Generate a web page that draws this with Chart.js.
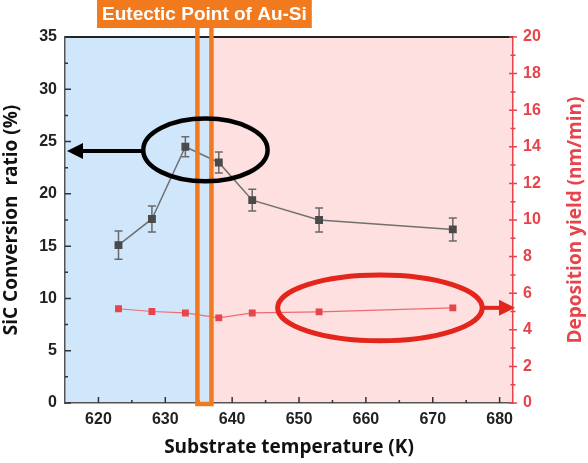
<!DOCTYPE html>
<html>
<head>
<meta charset="utf-8">
<script src="https://cdn.jsdelivr.net/npm/chart.js@4.4.0/dist/chart.umd.min.js"></script>
<style>
  html, body { margin: 0; padding: 0; background: #fff; }
</style>
</head>
<body>
<canvas id="chart" width="588" height="463"></canvas>
<script>
// substrate temperature (K) and the two measured series
const temps = [623, 628, 633, 638, 643, 653, 673];
const conversionRatio = [15.1, 17.6, 24.5, 23.0, 19.4, 17.5, 16.6];
const conversionErr = [1.35, 1.25, 0.95, 1.0, 1.05, 1.15, 1.1];
const depositionYield = [5.15, 5.0, 4.92, 4.65, 4.92, 4.98, 5.2];

const xTicks = [620, 630, 640, 650, 660, 670, 680];
const eutecticBox = [634.8, 636.9];   // the orange marker around the Au-Si eutectic point
const eutecticLabel = 'Eutectic Point of Au-Si';
const rightTitle = 'Deposition yield (nm/min)';

const ORANGE = '#f27a1e';
const RED = '#e8424a';
const TICK_FONT = { family: '"Liberation Sans", Arial, sans-serif', size: 16, weight: 'bold' };
const TITLE_FONT = { family: '"Open Sans", sans-serif', size: 19, weight: 'bold' };

function ellipse(ctx, cx, cy, rx, ry, color, lw) {
  ctx.save();
  ctx.strokeStyle = color;
  ctx.lineWidth = lw;
  ctx.beginPath();
  ctx.ellipse(cx, cy, rx, ry, 0, 0, Math.PI * 2);
  ctx.stroke();
  ctx.restore();
}

function arrow(ctx, x1, x2, y, color, lw, head, half) {
  const dir = Math.sign(x2 - x1);
  ctx.save();
  ctx.strokeStyle = color;
  ctx.fillStyle = color;
  ctx.lineWidth = lw;
  ctx.beginPath();
  ctx.moveTo(x1, y);
  ctx.lineTo(x2 - dir * head, y);
  ctx.stroke();
  ctx.beginPath();
  ctx.moveTo(x2, y);
  ctx.lineTo(x2 - dir * head, y - half);
  ctx.lineTo(x2 - dir * head, y + half);
  ctx.closePath();
  ctx.fill();
  ctx.restore();
}

const decorations = {
  id: 'decorations',
  beforeDraw(chart) {
    const { ctx, chartArea: a, scales: { x } } = chart;
    const split = x.getPixelForValue(eutecticBox[1]);
    ctx.save();
    ctx.fillStyle = '#cfe6fb';
    ctx.fillRect(a.left, a.top, split - a.left, a.bottom - a.top);
    ctx.fillStyle = '#fde0df';
    ctx.fillRect(split, a.top, a.right - split, a.bottom - a.top);
    ctx.restore();
  },
  beforeDatasetsDraw(chart) {
    const { ctx, scales: { x, y } } = chart;
    ctx.save();
    ctx.strokeStyle = '#6a6a6a';
    ctx.lineWidth = 1.5;
    temps.forEach((t, i) => {
      const px = x.getPixelForValue(t);
      const top = y.getPixelForValue(conversionRatio[i] + conversionErr[i]);
      const bot = y.getPixelForValue(conversionRatio[i] - conversionErr[i]);
      ctx.beginPath();
      ctx.moveTo(px, top); ctx.lineTo(px, bot);
      ctx.moveTo(px - 4, top); ctx.lineTo(px + 4, top);
      ctx.moveTo(px - 4, bot); ctx.lineTo(px + 4, bot);
      ctx.stroke();
    });
    ctx.restore();
  },
  afterDatasetsDraw(chart) {
    const { ctx, chartArea: a, scales: { x, y, y2 } } = chart;

    // top frame line
    ctx.save();
    ctx.strokeStyle = '#222';
    ctx.lineWidth = 2;
    ctx.beginPath();
    ctx.moveTo(a.left, a.top); ctx.lineTo(a.right, a.top);
    ctx.stroke();

    // tick marks
    ctx.lineWidth = 1.5;
    ctx.strokeStyle = '#333';
    ctx.beginPath();
    for (let v = 620; v <= 680; v += 5) {
      const px = x.getPixelForValue(v);
      const len = v % 10 === 0 ? 6 : 3;
      ctx.moveTo(px, a.bottom); ctx.lineTo(px, a.bottom - len);
    }
    for (let v = 0; v <= 35; v += 2.5) {
      const py = y.getPixelForValue(v);
      const len = v % 5 === 0 ? 6 : 3;
      ctx.moveTo(a.left, py); ctx.lineTo(a.left + len, py);
    }
    ctx.stroke();
    ctx.strokeStyle = RED;
    ctx.beginPath();
    for (let v = 0; v <= 20; v += 1) {
      const py = y2.getPixelForValue(v);
      const len = v % 2 === 0 ? 4 : 2.5;
      ctx.moveTo(a.right - len, py); ctx.lineTo(a.right + len, py);
    }
    ctx.stroke();
    ctx.restore();

    // right axis title, reading bottom to top
    ctx.save();
    ctx.translate(576, (a.top + a.bottom) / 2);
    ctx.rotate(-Math.PI / 2);
    ctx.font = 'bold 19px "Open Sans", sans-serif';
    ctx.fillStyle = RED;
    ctx.textAlign = 'center';
    ctx.textBaseline = 'middle';
    ctx.fillText(rightTitle, 0, 0);
    ctx.restore();

    // eutectic marker box
    const bx1 = x.getPixelForValue(eutecticBox[0]);
    const bx2 = x.getPixelForValue(eutecticBox[1]);
    ctx.save();
    ctx.strokeStyle = ORANGE;
    ctx.lineWidth = 4.5;
    ctx.strokeRect(bx1, 20, bx2 - bx1, a.bottom + 1 - 20);
    ctx.restore();

    // highlight ellipses and arrows
    const bcx = x.getPixelForValue(636), bcy = y.getPixelForValue(24.2);
    const brx = x.getPixelForValue(645.3) - bcx;
    const bry = bcy - y.getPixelForValue(27.2);
    ellipse(ctx, bcx, bcy, brx, bry, '#000', 4.5);
    arrow(ctx, bcx - brx, a.left + 2, y.getPixelForValue(24.1), '#000', 4, 16, 8);

    const rcx = x.getPixelForValue(662.1), rcy = y2.getPixelForValue(5.2);
    const rrx = x.getPixelForValue(677.4) - rcx;
    const rry = rcy - y2.getPixelForValue(7.0);
    ellipse(ctx, rcx, rcy, rrx, rry, '#e3251b', 5);
    arrow(ctx, rcx + rrx, a.right + 2, rcy, '#e3251b', 4, 16, 8);

    // eutectic label
    ctx.save();
    const cx = (bx1 + bx2) / 2;
    ctx.font = 'bold 19px "Liberation Sans", Arial, sans-serif';
    const w = ctx.measureText(eutecticLabel).width + 10;
    ctx.fillStyle = ORANGE;
    ctx.fillRect(cx - w / 2, 0, w, 28);
    ctx.fillStyle = '#fff';
    ctx.textAlign = 'center';
    ctx.textBaseline = 'middle';
    ctx.fillText(eutecticLabel, cx, 15);
    ctx.restore();
  }
};

new Chart(document.getElementById('chart'), {
  type: 'line',
  data: {
    datasets: [{
      label: 'SiC Conversion ratio',
      data: temps.map((t, i) => ({ x: t, y: conversionRatio[i] })),
      yAxisID: 'y',
      borderColor: '#707070',
      borderWidth: 1.5,
      pointStyle: 'rect',
      pointRadius: 4.5,
      pointBackgroundColor: '#4a4a4a',
      pointBorderColor: '#4a4a4a',
      tension: 0
    }, {
      label: 'Deposition yield',
      data: temps.map((t, i) => ({ x: t, y: depositionYield[i] })),
      yAxisID: 'y2',
      borderColor: '#ef6b70',
      borderWidth: 1.2,
      pointStyle: 'rect',
      pointRadius: 4,
      pointBackgroundColor: RED,
      pointBorderColor: RED,
      tension: 0
    }]
  },
  options: {
    responsive: false,
    animation: false,
    layout: { padding: { top: 37 } },
    plugins: { legend: { display: false }, tooltip: { enabled: false } },
    scales: {
      x: {
        type: 'linear',
        min: 615,
        max: 682,
        afterBuildTicks: s => { s.ticks = xTicks.map(v => ({ value: v })); },
        afterFit: s => { s.height = 60; },
        grid: { display: false, drawTicks: false },
        border: { display: true, color: '#555', width: 1.5 },
        ticks: { color: '#222', font: TICK_FONT, padding: 7, maxRotation: 0 },
        title: { display: true, text: 'Substrate temperature (K)', color: '#111', font: TITLE_FONT, padding: { top: 0, bottom: 4 } }
      },
      y: {
        position: 'left',
        min: 0,
        max: 35,
        ticks: { stepSize: 5, color: '#222', font: TICK_FONT, padding: 8 },
        afterFit: s => { s.width = 65; },
        grid: { display: false, drawTicks: false },
        border: { display: true, color: '#555', width: 1.5 },
        title: { display: true, text: 'SiC Conversion  ratio (%)', color: '#111', font: TITLE_FONT, padding: 0 }
      },
      y2: {
        position: 'right',
        min: 0,
        max: 20,
        ticks: { stepSize: 2, color: RED, font: TICK_FONT, padding: 10 },
        afterFit: s => { s.width = 75; },
        grid: { display: false, drawTicks: false },
        border: { display: true, color: RED, width: 1.5 }
      }
    }
  },
  plugins: [decorations]
});
</script>
</body>
</html>
